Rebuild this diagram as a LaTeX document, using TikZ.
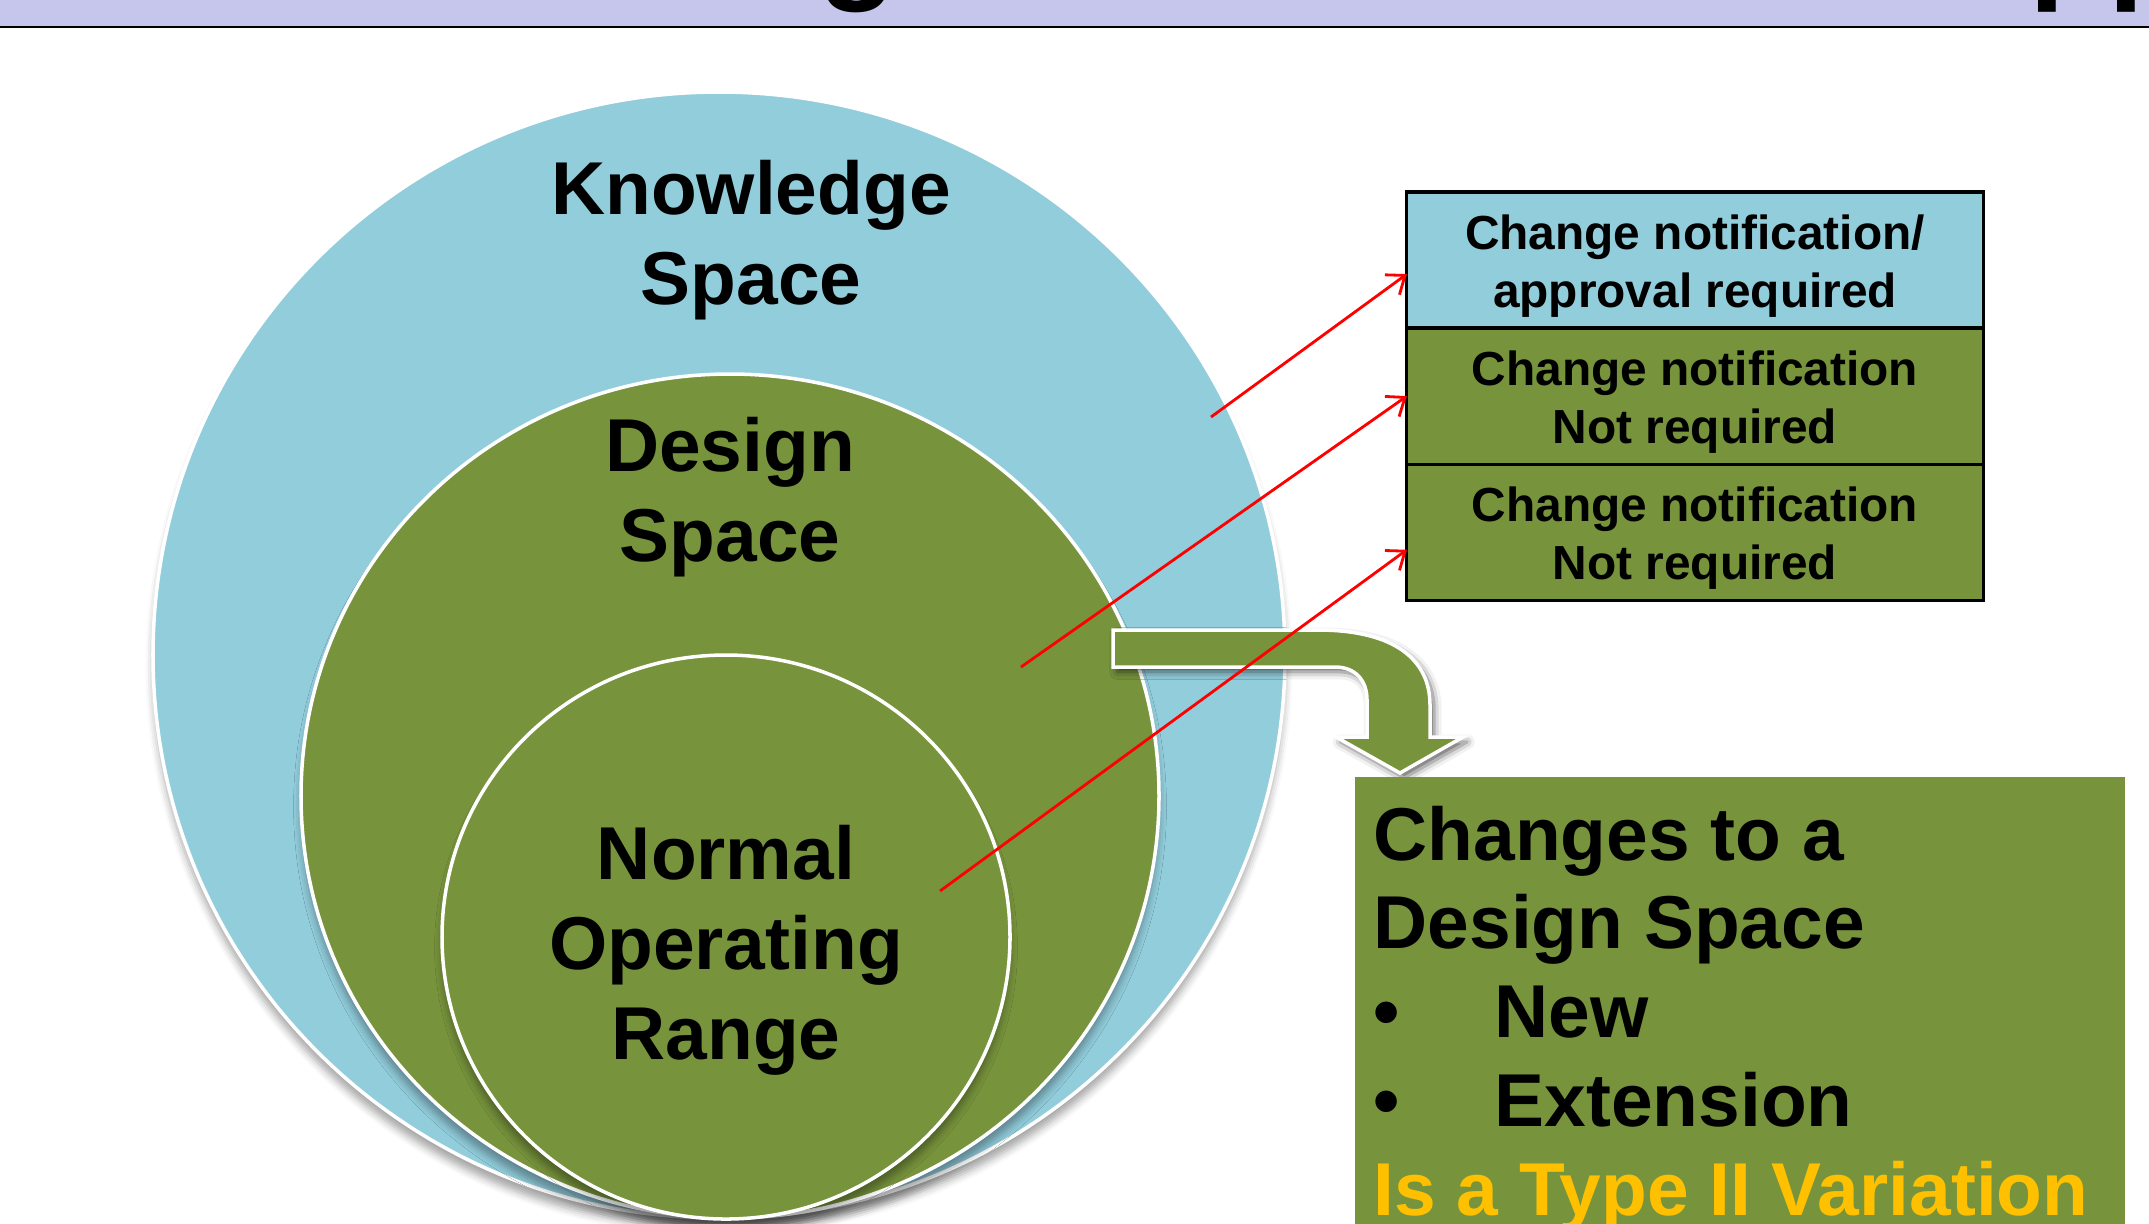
\documentclass[tikz,border=0pt]{standalone}
\usepackage{fontspec}
\setmainfont{Liberation Sans}
\usetikzlibrary{positioning, arrows.meta, shadows.blur}

\definecolor{kblue}{HTML}{92CDDC}
\definecolor{dgreen}{HTML}{77933C}
\definecolor{titleband}{HTML}{C6C6EC}
\definecolor{vyellow}{HTML}{FFC000}

\tikzset{
  spacedisc/.style={draw=white, line width=1pt,
    blur shadow={shadow xshift=0pt, shadow yshift=-3pt, shadow opacity=35}},
  biglabel/.style={font=\fontsize{21.3}{25.6}\selectfont\bfseries, align=center, inner sep=0pt},
  rowbox/.style={draw=black, line width=0.9pt, minimum width=5.76cm, minimum height=1.36cm,
    outer sep=0pt, inner sep=0pt},
  rowtext/.style={align=center, inner sep=0pt, font=\fontsize{13.6}{16.5}\selectfont\bfseries},
  pointer/.style={red, line width=0.8pt, -{Straight Barb[length=4.5pt, width=7pt]}},
}

\begin{document}
\begin{tikzpicture}[x=0.01cm, y=-0.01cm]
  \useasboundingbox (0,0) rectangle (2149,1223);

  % heading strip, title cut off at the top
  \fill[titleband] (0,0) rectangle (2149,26);
  \begin{scope}
    \clip (0,0) rectangle (2149,26);
    \node[font=\fontsize{36.7}{40}\selectfont\bfseries, anchor=base, inner sep=0pt] (ttlg) at (858,-15) {g};
    \node[font=\fontsize{36.7}{40}\selectfont\bfseries, anchor=base, inner sep=0pt] (ttlpp) at (2108,-15) {pp};
  \end{scope}
  \draw[line width=0.8pt] (0,27) -- (2149,27);

  % nested spaces
  \draw[spacedisc, fill=kblue] (719,655) ellipse [x radius=566, y radius=563];
  \draw[spacedisc, fill=dgreen] (730,796) ellipse [x radius=429, y radius=422];
  \draw[spacedisc, fill=dgreen] (726,937) ellipse [x radius=284, y radius=282];

  \node[biglabel] (know) at (751,240) {Knowledge\\Space};
  \node[biglabel] (design) at (730,497) {Design\\Space};
  \node[biglabel] (nor) at (726,950) {Normal\\Operating\\Range};

  % bent arrow down to the box
  \draw[white, line width=1pt, fill=dgreen,
    blur shadow={shadow xshift=1.2pt, shadow yshift=-1.4pt, shadow opacity=60, shadow blur steps=3}]
    (1113,630) -- (1318,630) .. controls (1395,630) and (1430,660) .. (1430,705)
    -- (1430,737) -- (1463,737) -- (1400,773) -- (1336,737) -- (1367,737) -- (1367,700)
    .. controls (1367,680) and (1355,667) .. (1335,667) -- (1113,667) -- cycle;

  % notification table
  \node[rowbox, fill=kblue] (r1) at (1695,260) {};
  \node[rowbox, fill=dgreen, below=0pt of r1] (r2) {};
  \node[rowbox, fill=dgreen, below=0pt of r2] (r3) {};
  \node[rowtext] (t1) at ([yshift=-1.8pt]r1.center) {Change notification/\\approval required};
  \node[rowtext] (t2) at ([yshift=-1.8pt]r2.center) {Change notification\\Not required};
  \node[rowtext] (t3) at ([yshift=-1.8pt]r3.center) {Change notification\\Not required};

  \coordinate (k1) at (1211,417);
  \coordinate (d1) at (1021,667);
  \coordinate (n1) at (940,891);
  \draw[pointer] (k1) -- ([yshift=-4pt]r1.west);
  \draw[pointer] (d1) -- (r2.west);
  \draw[pointer] (n1) -- ([yshift=-5pt]r3.west);

  % type II box
  \node[fill=dgreen, minimum width=7.7cm, minimum height=4.6cm, anchor=north west, inner sep=0pt] (typebox) at (1354,776) {};
  \node[anchor=north west, inner sep=0pt, align=left, font=\fontsize{21.3}{25.3}\selectfont\bfseries] (typetext) at (1373,805)
    {Changes to a\\Design Space\\\makebox[1.21cm][l]{\textbullet}New\\\makebox[1.21cm][l]{\textbullet}Extension\\\textcolor{vyellow}{Is a Type II Variation}};
\end{tikzpicture}
\end{document}
